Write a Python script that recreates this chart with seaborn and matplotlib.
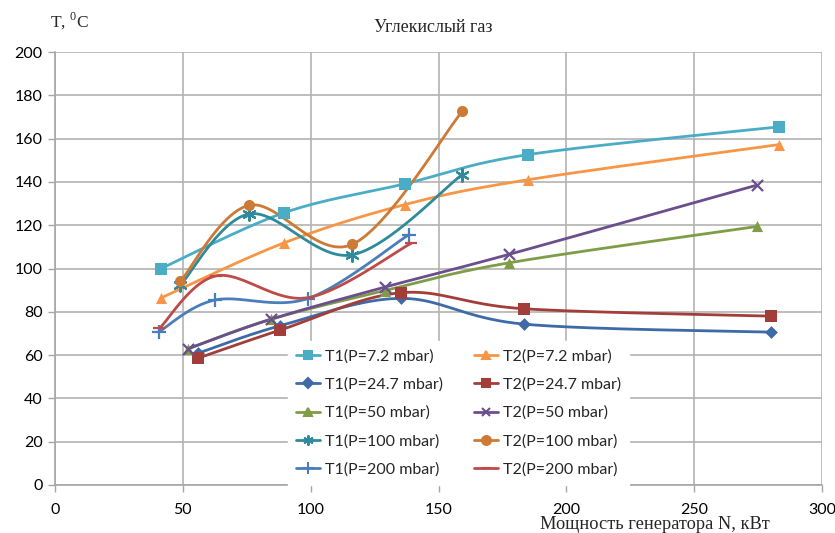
import numpy as np
import pandas as pd
import matplotlib
matplotlib.use("Agg")
import matplotlib.pyplot as plt
from matplotlib.lines import Line2D
import seaborn as sns

# Measured points: generator power N (kW) and temperature T (°C)
names = ["T1(P=7.2 mbar)", "T2(P=7.2 mbar)", "T1(P=24.7 mbar)", "T2(P=24.7 mbar)",
         "T1(P=50 mbar)", "T2(P=50 mbar)", "T1(P=100 mbar)", "T2(P=100 mbar)",
         "T1(P=200 mbar)", "T2(P=200 mbar)"]

n_t1_72 = [41.5, 89.5, 136.8, 185.0, 283.0]
t_t1_72 = [100.0, 125.7, 139.1, 152.6, 165.4]
n_t2_72 = [41.3, 89.5, 136.8, 185.0, 283.0]
t_t2_72 = [86.3, 111.8, 129.5, 141.0, 157.2]

n_t1_247 = [56.0, 88.2, 135.2, 183.5, 280.0]
t_t1_247 = [60.9, 73.6, 86.2, 74.3, 70.6]
n_t2_247 = [56.0, 88.2, 135.2, 183.5, 280.0]
t_t2_247 = [58.6, 71.6, 88.8, 81.4, 78.0]

n_t1_50 = [52.2, 84.3, 129.0, 177.5, 274.5]
t_t1_50 = [63.0, 76.5, 89.8, 102.6, 119.4]
n_t2_50 = [52.2, 84.3, 129.0, 177.5, 274.5]
t_t2_50 = [63.0, 76.5, 91.4, 106.5, 138.5]

n_t1_100 = [49.0, 76.0, 116.2, 159.3]
t_t1_100 = [92.3, 125.2, 106.3, 143.4]
n_t2_100 = [49.0, 76.0, 116.2, 159.3]
t_t2_100 = [94.0, 129.2, 111.1, 172.6]

n_t1_200 = [40.8, 62.4, 98.8, 138.5]
t_t1_200 = [70.9, 85.4, 86.1, 115.7]
n_t2_200 = [40.8, 63.0, 98.8, 139.4]
t_t2_200 = [72.3, 96.6, 86.5, 111.7]

series_n = [n_t1_72, n_t2_72, n_t1_247, n_t2_247, n_t1_50, n_t2_50,
            n_t1_100, n_t2_100, n_t1_200, n_t2_200]
series_t = [t_t1_72, t_t2_72, t_t1_247, t_t2_247, t_t1_50, t_t2_50,
            t_t1_100, t_t2_100, t_t1_200, t_t2_200]

colors = ["#4bacc6", "#f79646", "#3e6aa8", "#a33d3a", "#7f9c47",
          "#6a4f8c", "#2f8a9c", "#cc7a35", "#4a7ebb", "#be4b48"]
markers = ["s", "^", "D", "s", "^", "x", (6, 2, 0), "o", "+", "_"]
msizes = [8, 8, 6.5, 8, 8, 8, 9, 8, 10, 9]

x_ticks = [0, 50, 100, 150, 200, 250, 300]
y_ticks = [0, 20, 40, 60, 80, 100, 120, 140, 160, 180, 200]


def smooth(xs, ys, steps=40):
    """Bezier smoothing through the points (control points at 1/6 of the neighbour chord)."""
    p = np.column_stack([xs, ys]).astype(float)
    out = [p[0]]
    for i in range(len(p) - 1):
        p0 = p[i - 1] if i > 0 else p[i]
        p1, p2 = p[i], p[i + 1]
        p3 = p[i + 2] if i + 2 < len(p) else p[i + 1]
        c1 = p1 + (p2 - p0) / 6.0
        c2 = p2 - (p3 - p1) / 6.0
        t = np.linspace(0, 1, steps)[1:, None]
        seg = ((1 - t) ** 3) * p1 + 3 * ((1 - t) ** 2) * t * c1 + 3 * (1 - t) * t ** 2 * c2 + t ** 3 * p2
        out.extend(seg)
    out = np.array(out)
    return out[:, 0], out[:, 1]


curves = []
points = []
for name, xs, ys in zip(names, series_n, series_t):
    sx, sy = smooth(xs, ys)
    curves.append(pd.DataFrame({"N": sx, "T": sy, "series": name, "order": np.arange(len(sx))}))
    points.append(pd.DataFrame({"N": xs, "T": ys, "series": name}))
curve_df = pd.concat(curves, ignore_index=True)
point_df = pd.concat(points, ignore_index=True)

sns.set_theme(style="white")
plt.rcParams["font.family"] = ["Lato", "DejaVu Sans"]
plt.rcParams["mathtext.fontset"] = "custom"
plt.rcParams["mathtext.rm"] = "Liberation Serif"

fig = plt.figure(figsize=(8.35, 5.33), dpi=100)
ax = fig.add_axes([55 / 835, 48 / 533, 767 / 835, 433 / 533])

palette = dict(zip(names, colors))
sns.lineplot(data=curve_df, x="N", y="T", hue="series", palette=palette, sort=False,
             estimator=None, units="series", linewidth=2.0, legend=False, ax=ax, zorder=3)
for name, c, m, ms in zip(names, colors, markers, msizes):
    sub = point_df[point_df["series"] == name]
    lw = 1.6 if m in ("x", "+", "_") or isinstance(m, tuple) else 0
    sns.scatterplot(data=sub, x="N", y="T", color=c, marker=m, s=ms ** 2,
                    linewidth=lw, edgecolor=c, legend=False, ax=ax, zorder=4)

ax.set_xlim(0, 300)
ax.set_ylim(0, 200)
ax.set_xticks(x_ticks)
ax.set_yticks(y_ticks)
ax.set_xticklabels([str(v) for v in x_ticks])
ax.set_yticklabels([str(v) for v in y_ticks])
ax.tick_params(axis="both", labelsize=11.5, colors="#000000", length=5, width=1,
               direction="out", color="#a6a6a6")
ax.tick_params(axis="y", pad=4)
ax.tick_params(axis="x", pad=8)
ax.grid(True, color="#b3b3b3", linewidth=1.2)
ax.set_axisbelow(True)
for side in ("top", "right"):
    ax.spines[side].set_visible(False)
for side in ("left", "bottom"):
    ax.spines[side].set_color("#a6a6a6")
    ax.spines[side].set_linewidth(1.2)
ax.set_xlabel("")
ax.set_ylabel("")
ax.tick_params(bottom=True, left=True)

# Legend: T1 series in the first column, T2 in the second
handles = []
for name, c, m, ms in zip(names, colors, markers, msizes):
    handles.append(Line2D([], [], color=c, linewidth=2.0, marker=m, markersize=ms * 0.8,
                          markeredgewidth=1.5, markeredgecolor=c, markerfacecolor=c, label=name))
order = [0, 2, 4, 6, 8, 1, 3, 5, 7, 9]
leg = ax.legend([handles[i] for i in order], [names[i] for i in order], ncol=2,
                loc="upper left", bbox_to_anchor=(288 / 835, 1 - 341 / 533),
                bbox_transform=fig.transFigure, frameon=True, fancybox=False,
                fontsize=11.5, handlelength=1.5, handletextpad=0.3, columnspacing=1.95,
                labelspacing=0.88, borderpad=0.5, borderaxespad=0)
leg.get_frame().set_facecolor("white")
leg.get_frame().set_edgecolor("white")
leg.get_frame().set_alpha(1)
leg.set_zorder(5)

serif = ["Liberation Serif", "DejaVu Serif"]
fig.text(433 / 835, 1 - 28 / 533, "Углекислый газ", family=serif, fontsize=13,
         ha="center", va="center")
fig.text(50 / 835, 1 - 21 / 533, r"T, $^{\mathrm{0}}$C", family=serif, fontsize=12.5,
         ha="left", va="center")
fig.text(770 / 835, 1 - 529 / 533, "Мощность генератора N, кВт", family=serif,
         fontsize=13.2, ha="right", va="baseline")

fig.savefig("out.png", dpi=100)
